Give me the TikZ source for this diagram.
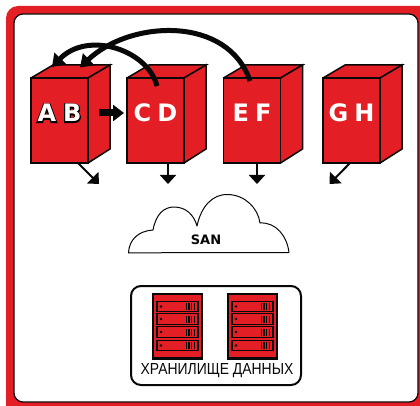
\documentclass[tikz,border=0pt]{standalone}
\usepackage{fontspec}
\setmainfont{DejaVu Sans}
\newfontfamily\lblfont{Liberation Sans}
\usetikzlibrary{arrows.meta}
\definecolor{rd}{RGB}{227,30,36}
\definecolor{dk}{RGB}{8,8,8}
\newcommand{\outl}[1]{\special{pdf:literal direct q 1 Tr 0 G 2.2 w}\makebox[0pt][l]{#1}\special{pdf:literal direct Q}#1}
\tikzset{
 x=1pt,y=-1pt,
 frontface/.style={draw=dk,fill=rd,line width=1.8pt,minimum width=57pt,minimum height=85pt,inner sep=0pt,text=white,font=\fontsize{24}{24}\selectfont\bfseries},
 sideface/.style={draw=dk,fill=rd,line width=1.5pt,line join=miter},
 downarrow/.style={draw=dk,line width=2pt,-{Triangle[length=9pt,width=16pt]}},
 bigarc/.style={draw=dk,line width=5pt,-{Triangle[length=12pt,width=16pt]}},
 slotbox/.style={draw=dk,fill=rd,line width=1.3pt,minimum width=41pt,minimum height=10.5pt,inner sep=0pt},
 rackbox/.style={draw=dk,fill=rd,line width=2pt,minimum width=49pt,minimum height=64pt,inner sep=0pt},
}
\newcommand{\cube}[3]{%
 \fill[rd] (#1,78) -- ++(22,-13) -- ++(57,0) -- ++(0,84) -- ++(-22,14) -- cycle;
 \draw[sideface] (#1,78) -- ++(22,-13) -- ++(57,0) -- ++(-22,13);
 \draw[sideface] (#1+57,78) -- ++(22,-13) -- ++(0,84) -- ++(-22,14);
 \node[frontface] (#2) at (#1+28.5,120.5) {\raisebox{-1.5pt}[0pt][0pt]{#3}};
}
\newcommand{\rack}[2]{%
 \fill[dk] (#2-25.5,293) rectangle (#2+25.5,360);
 \node[rackbox] (#1) at (#2,326) {};
 \foreach \sy [count=\si] in {306.5,319,332,345.5}{
  \node[slotbox] (#1s\si) at (#2,\sy) {};
  \fill[dk] (#2-16.5,\sy) circle (1.3pt);
  \foreach \vx in {8,10.5,13,16}
   \fill[dk] (#2+\vx,\sy-3.5) rectangle ++(1.5,7);
 }
}
\begin{document}
\begin{tikzpicture}
\useasboundingbox (0,0) rectangle (420,406);
\fill[white] (0,0) rectangle (420,406);
% frame
\begin{scope}
\clip (0,0) rectangle (420,406);
\fill[rd,rounded corners=12pt] (6,6) rectangle (432,418);
\draw[fill=white,draw=dk,line width=1.2pt,rounded corners=9pt] (14,14) rectangle (418,402);
\end{scope}
% cubes
\cube{31}{ab}{\outl{A}\hspace{7pt}\outl{B}}
\cube{127}{cd}{C\hspace{6pt}D}
\cube{223.5}{ef}{E\hspace{6pt}F}
\cube{323}{gh}{G\hspace{6pt}H}
% connector ends
\coordinate (abd) at (78,163);
\coordinate (abe) at (99,184);
\coordinate (cdd) at (168,163);
\coordinate (cde) at (168,184);
\coordinate (efd) at (257,163);
\coordinate (efe) at (257,184);
\coordinate (ghd) at (350,163);
\coordinate (ghe) at (329.5,184);
\coordinate (abr) at (99,113);
\coordinate (cdl) at (124,113);
\coordinate (cds) at (157,86);
\coordinate (abt1) at (52,67);
\coordinate (efs) at (250,81);
\coordinate (abt2) at (80,67.5);
\draw[downarrow] (abd) -- (abe);
\draw[downarrow] (cdd) -- (cde);
\draw[downarrow] (efd) -- (efe);
\draw[downarrow] (ghd) -- (ghe);
\draw[draw=dk,line width=7pt,-{Triangle[length=11pt,width=16pt]}] (abr) -- (cdl);
\draw[bigarc] (cds) .. controls (148,50) and (88,30) .. (abt1);
\draw[bigarc] (efs) .. controls (228,15) and (130,20) .. (abt2);
% cloud
\draw[draw=dk,fill=white,line width=1pt,line join=round] (128.5,253)
 .. controls (129,240) and (138,231) .. (153,230)
 .. controls (156,214) and (164,207) .. (174,207)
 .. controls (186,207) and (194,215) .. (197,226)
 .. controls (201,207) and (212,194) .. (228,194.5)
 .. controls (245,195) and (258,208) .. (260,223)
 .. controls (276,222) and (287,236) .. (289,252.5)
 .. controls (240,252.5) and (180,252.5) .. cycle;
\node[font=\fontsize{13}{13}\selectfont\bfseries,text=dk,inner sep=0pt] (san) at (206,240) {SAN};
% storage
\node[draw=dk,line width=2pt,rounded corners=10pt,minimum width=170pt,minimum height=99pt,inner sep=0pt] (store) at (216,335.5) {};
\rack{ra}{177.5}
\rack{rb}{252.5}
\node[font=\lblfont\fontsize{16}{16}\selectfont,text=dk,inner sep=0pt] (lab) at (217,371) {\scalebox{0.87}[1]{ХРАНИЛИЩЕ ДАННЫХ}};
\end{tikzpicture}
\end{document}
